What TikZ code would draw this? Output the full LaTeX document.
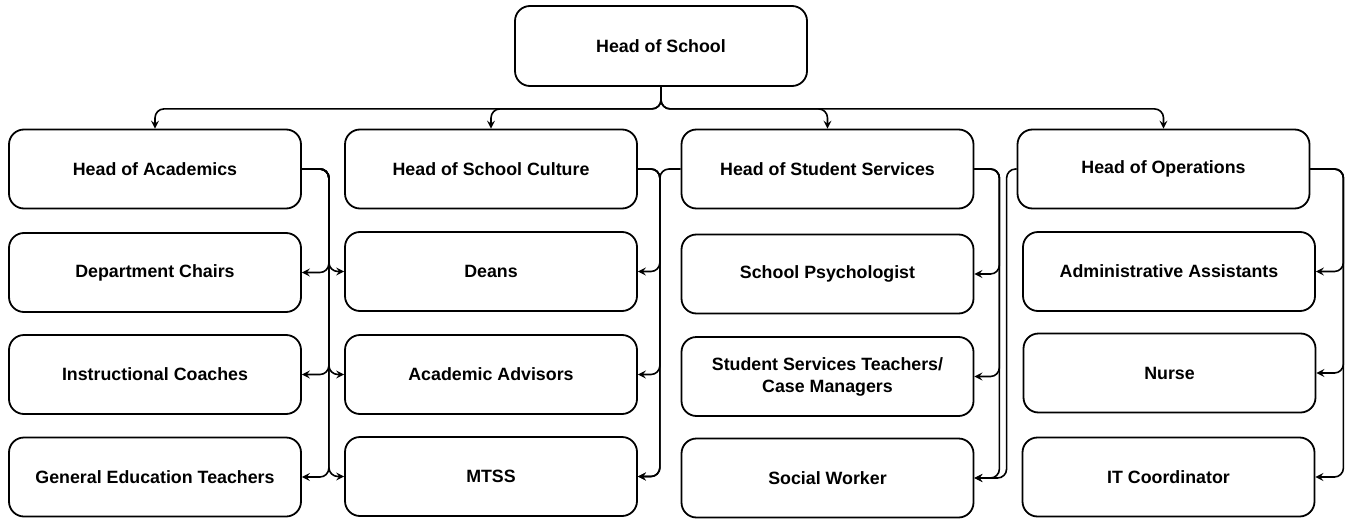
\documentclass[tikz,border=0pt]{standalone}
\usepackage{fontspec}
\setmainfont{Liberation Sans}
\usetikzlibrary{arrows.meta,calc}
\begin{document}
\begin{tikzpicture}[x=1pt,y=-1pt,
  box/.style={draw=black, line width=1.8pt, rounded corners=15pt, minimum width=292pt, minimum height=79pt, inner sep=0pt, align=center, font=\fontsize{17.8}{22}\selectfont\bfseries},
  conn/.style={draw=black, line width=1.6pt, rounded corners=9pt, -{Stealth[length=8pt,width=8pt,inset=3pt]}}]
\useasboundingbox (0,0) rectangle (1346,519);
\node[box] (hos) at (661,46) [minimum height=80pt] {Head of School};
% column 1
\node[box] (a1) at (155,169) {Head of Academics};
\node[box] (a2) at (155,272.5) {Department Chairs};
\node[box] (a3) at (155,374.5) {Instructional Coaches};
\node[box] (a4) at (155,477) {General Education Teachers};
% column 2
\node[box] (b1) at (491,169) {Head of School Culture};
\node[box] (b2) at (491,271.5) {Deans};
\node[box] (b3) at (491,374.5) {Academic Advisors};
\node[box] (b4) at (491,476.5) {MTSS};
% column 3
\node[box] (c1) at (827.5,169) {Head of Student Services};
\node[box] (c2) at (827.5,274) {School Psychologist};
\node[box] (c3) at (827.5,376.5) {Student Services Teachers/\\Case Managers};
\node[box] (c4) at (827.5,478) {Social Worker};
% column 4
\node[box] (d1) at (1163.5,169) {Head of Operations};
\node[box] (d2) at (1169,271.5) {Administrative Assistants};
\node[box] (d3) at (1169.5,373) {Nurse};
\node[box] (d4) at (1168.5,477) {IT Coordinator};
% bus coordinates
\coordinate (v1) at ($(a1.east)+(27,0)$);
\coordinate (v2) at ($(b1.east)+(22,0)$);
\coordinate (v3) at ($(c1.east)+(25,0)$);
\coordinate (v3b) at ($(d1.west)+(-10,0)$);
\coordinate (v4) at ($(d1.east)+(33,0)$);
% top level
\foreach \t in {a1,b1,c1,d1}
  \draw[conn] (hos.south) -- ++(0,22) -| (\t.north);
% head of academics
\foreach \t in {a2,a3,a4}
  \draw[conn] (a1.east) -- (v1) |- (\t.east);
\foreach \t in {b2,b3,b4}
  \draw[conn] (a1.east) -- (v1) |- (\t.west);
% head of school culture and student services
\foreach \t in {b2,b3,b4}
  \draw[conn] (b1.east) -- (v2) |- (\t.east);
\draw[conn] (c1.west) -- (v2) |- (b4.east);
% head of student services
\foreach \t in {c2,c3,c4}
  \draw[conn] (c1.east) -- (v3) |- (\t.east);
\draw[conn] (d1.west) -- (v3b) |- (c4.east);
% head of operations
\foreach \t in {d2,d3,d4}
  \draw[conn] (d1.east) -- (v4) |- (\t.east);
\end{tikzpicture}
\end{document}
